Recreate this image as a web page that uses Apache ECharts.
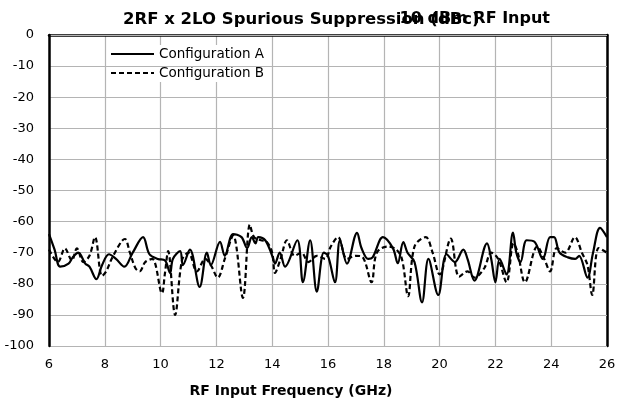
<!DOCTYPE html>
<html>
<head>
<meta charset="utf-8">
<script src="https://cdn.jsdelivr.net/npm/echarts@6/dist/echarts.min.js"></script>
<style>
  html, body { margin: 0; padding: 0; background: #fff; }
  #chart { width: 622px; height: 403px; }
</style>
</head>
<body>
<div id="chart"></div>
<script>
var freqA = [6.0, 6.2, 6.4, 6.7, 6.85, 7.05, 7.3, 7.45, 7.7, 7.9, 8.15, 8.4, 8.7, 9.0, 9.37, 9.6, 9.9, 10.16, 10.34, 10.44, 10.7, 10.8, 11.05, 11.4, 11.66, 11.8, 12.13, 12.3, 12.6, 12.9, 13.1, 13.27, 13.4, 13.5, 13.75, 14.0, 14.1, 14.27, 14.46, 14.9, 15.1, 15.36, 15.6, 15.85, 16.0, 16.25, 16.43, 16.68, 17.04, 17.2, 17.44, 17.6, 17.97, 18.33, 18.5, 18.7, 18.85, 19.1, 19.37, 19.6, 19.95, 20.25, 20.55, 20.85, 21.0, 21.25, 21.7, 21.85, 22.0, 22.15, 22.4, 22.63, 22.75, 22.9, 23.12, 23.4, 23.7, 23.96, 24.1, 24.3, 24.6, 24.86, 25.0, 25.3, 25.5, 25.75, 26.0];
var valA = [-64, -69, -74.5, -73.5, -71.5, -70, -73.5, -74.5, -78.5, -74, -70.5, -72, -74.5, -70, -65, -70.5, -72, -72.5, -76.5, -72, -69.5, -74, -69, -81, -70, -74, -66.5, -71, -64, -65, -68.5, -65, -67, -65, -66, -71, -73.5, -70, -74.5, -66, -79.5, -66, -82.5, -70, -71, -79.5, -66, -73.5, -63.6, -68.5, -72, -71.5, -65, -68.6, -73.4, -66.6, -70, -73, -86, -72, -83.6, -70.5, -73, -69, -72, -79, -67, -72, -79.5, -72, -77, -63.5, -70, -73, -66, -66.5, -72, -65, -65, -70, -71.5, -72, -71, -78, -70, -62, -65];

var freqB = [6.0, 6.32, 6.57, 6.82, 7.0, 7.23, 7.45, 7.65, 7.9, 8.05, 8.3, 8.72, 8.9, 9.1, 9.25, 9.45, 9.7, 10.05, 10.15, 10.27, 10.52, 10.77, 11.0, 11.3, 11.6, 11.8, 12.05, 12.3, 12.6, 12.95, 13.2, 13.35, 13.6, 13.8, 14.0, 14.1, 14.3, 14.53, 14.8, 15.05, 15.3, 15.6, 15.9, 16.1, 16.36, 16.68, 17.0, 17.25, 17.56, 17.75, 18.15, 18.45, 18.65, 18.87, 19.1, 19.5, 19.75, 20.0, 20.4, 20.7, 21.0, 21.25, 21.6, 21.85, 22.1, 22.4, 22.65, 22.8, 23.06, 23.5, 23.75, 23.96, 24.2, 24.5, 24.85, 25.1, 25.3, 25.47, 25.7, 26.0];
var valB = [-69, -73, -68.6, -72.5, -68.6, -73, -71, -65, -77.5, -76, -71, -65.6, -70, -75, -76, -73, -72, -83, -77, -69.5, -90, -72.3, -70, -76, -72, -74, -78, -72, -64.5, -84.5, -61, -65, -66, -66.5, -70, -76.5, -72, -66, -71, -70, -73, -71, -72, -68, -65, -72, -71, -71.5, -79.5, -70, -68, -69, -72, -84, -68, -65, -70, -77, -65.5, -77.7, -76, -78, -75, -70, -72, -79.5, -67, -70, -79.5, -68, -72, -76, -68.5, -70, -65, -70, -74, -83.6, -68.5, -70];

function pairs(xs, ys) {
  return xs.map(function (x, i) { return [x, ys[i]]; });
}

var chart = echarts.init(document.getElementById('chart'));
var font = 'DejaVu Sans';
chart.setOption({
  animation: false,
  textStyle: { fontFamily: font },
  title: [{
    text: '2RF x 2LO Spurious Suppression (dBc)',
    left: 118, top: 6,
    textStyle: { fontFamily: font, fontSize: 16.5, fontWeight: 'bold', color: '#000' }
  }, {
    text: '10 dBm RF Input',
    right: 67, top: 6,
    textStyle: { fontFamily: font, fontSize: 16, fontWeight: 'bold', color: '#000' }
  }],
  grid: { left: 49, right: 15, top: 35, bottom: 57 },
  legend: {
    orient: 'vertical',
    left: 108, top: 45,
    itemWidth: 43, itemHeight: 10, itemGap: 5,
    z: 1,
    backgroundColor: '#fff',
    padding: [2, 4, 2, 2],
    itemStyle: { opacity: 0 },
    textStyle: { fontFamily: font, fontSize: 13.5, color: '#000' },
    data: ['Configuration A', 'Configuration B']
  },
  xAxis: {
    type: 'value',
    min: 6, max: 26, interval: 2,
    z: 0,
    name: 'RF Input Frequency (GHz)',
    nameLocation: 'middle',
    nameGap: 38,
    nameTextStyle: { fontFamily: font, fontSize: 14, fontWeight: 'bold', color: '#000', padding: [0, 74, 0, 0] },
    axisLine: { lineStyle: { color: '#000', width: 2.5 } },
    axisTick: { show: false },
    axisLabel: { fontFamily: font, fontSize: 13, color: '#000', margin: 12 },
    splitLine: { show: true, lineStyle: { color: '#b4b4b4', width: 1.2 } }
  },
  yAxis: [{
    type: 'value',
    min: -100, max: 0, interval: 10,
    z: 1.5,
    axisLine: { show: true, lineStyle: { color: '#000', width: 2.5 } },
    axisTick: { show: false },
    axisLabel: { fontFamily: font, fontSize: 13, color: '#000', margin: 15 },
    splitLine: { show: true, lineStyle: { color: '#b4b4b4', width: 1.2 } }
  }, {
    type: 'value',
    position: 'right',
    min: -100, max: 0, interval: 10,
    axisLine: { show: true, lineStyle: { color: '#000', width: 2.5 } },
    axisTick: { show: false },
    axisLabel: { show: false },
    splitLine: { show: false }
  }],
  series: [{
    name: 'Configuration A',
    type: 'line',
    data: pairs(freqA, valA),
    smooth: 0.35,
    symbol: 'none',
    z: 3,
    itemStyle: { color: '#000' },
    lineStyle: { color: '#000', width: 2.2 }
  }, {
    name: 'Configuration B',
    type: 'line',
    data: pairs(freqB, valB),
    smooth: 0.35,
    symbol: 'none',
    z: 3,
    itemStyle: { color: '#000' },
    lineStyle: { color: '#000', width: 2.2, type: [5, 3] }
  }]
});
</script>
</body>
</html>
